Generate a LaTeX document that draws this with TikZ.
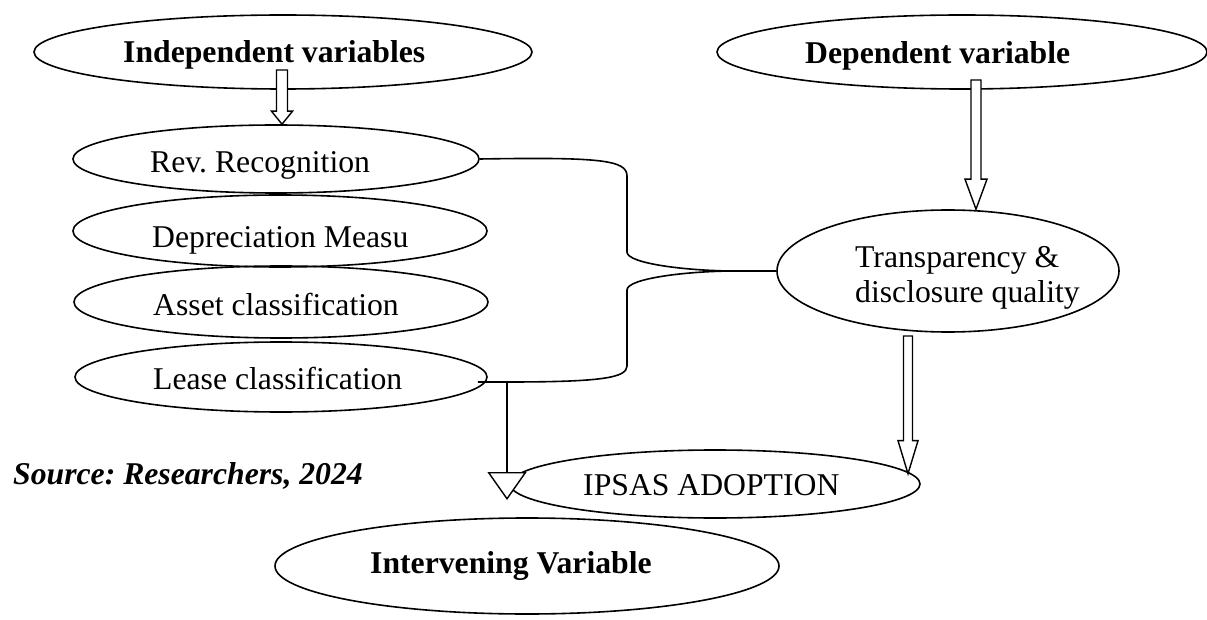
\documentclass[tikz,border=0pt]{standalone}
\usepackage{fontspec}
\setmainfont{Liberation Serif}
\usetikzlibrary{shapes.geometric,calc,arrows.meta}
\newcommand{\bigtxt}{\fontsize{31.7}{35}\selectfont}
\newcommand{\hollowdown}[5]{%
  \draw[line width=1.4pt,fill=white,line join=miter] let \p1=(#1), \p2=(#2) in
    (\x1-#4,\y1) -- (\x1-#4,\y2+#3) -- (\x1-#5,\y2+#3) -- (\x1,\y2)
    -- (\x1+#5,\y2+#3) -- (\x1+#4,\y2+#3) -- (\x1+#4,\y1) -- cycle;}
\frenchspacing

\begin{document}
\begin{tikzpicture}[x=1pt,y=-1pt,
   oval/.style={draw,ellipse,line width=1.6pt,inner sep=0pt},
   lbl/.style={anchor=base west,inner sep=0pt,font=\bigtxt},
   wire/.style={line width=1.6pt}]
   \useasboundingbox (0,0) rectangle (1207,620);
   \node[oval,minimum width=498,minimum height=74] (indep) at (283,52) {};
   \node[oval,minimum width=490,minimum height=74] (dep) at (962,52) {};
   \node[oval,minimum width=406,minimum height=68] (rev) at (276,159) {};
   \node[oval,minimum width=414,minimum height=72] (depr) at (280,231) {};
   \node[oval,minimum width=414,minimum height=72] (asset) at (281,302) {};
   \node[oval,minimum width=412,minimum height=70] (lease) at (281,377) {};
   \node[oval,minimum width=342,minimum height=122] (trans) at (948,271) {};
   \node[oval,minimum width=410,minimum height=68] (ipsas) at (715,484) {};
   \node[oval,minimum width=504,minimum height=96] (interv) at (527,566) {};
   \node[lbl,font=\bigtxt\bfseries] (indeptxt) at (123,63) {Independent variables};
   \node[lbl,font=\bigtxt\bfseries] (deptxt) at (805,64) {Dependent variable};
   \node[lbl] (revtxt) at (150,173) {Rev. Recognition};
   \node[lbl] (deprtxt) at (152,248) {Depreciation Measu};
   \node[lbl] (assettxt) at (153,315) {Asset classification};
   \node[lbl] (leasetxt) at (153,389) {Lease classification};
   \node[lbl] (transtxt) at (855,268) {Transparency \&};
   \node[lbl] (transtxtb) at (855,302) {disclosure quality};
   \node[lbl] (ipsastxt) at (583,495) {IPSAS ADOPTION};
   \node[lbl,font=\bigtxt\bfseries] (intervtxt) at (370,573) {Intervening Variable};
   \node[lbl,font=\bigtxt\bfseries\itshape] (source) at (13,484) {Source: Researchers, 2024};
   \coordinate (ia) at (282,70);
   \coordinate (da) at (976,80);
   \coordinate (ta) at (908,336);
   \coordinate (mid) at (735,271);
   \coordinate (drop) at (507,382);
   \coordinate (droptip) at (507,500);
   \coordinate (leaseend) at ($(lease.east)+(-10,5)$);
   \hollowdown{ia}{ia |- rev.north}{13pt}{5.5pt}{10.5pt}
   \hollowdown{da}{da |- trans.north}{30pt}{5pt}{11pt}
   \hollowdown{ta}{ta |- ipsas.3}{33pt}{4.5pt}{10pt}
   \draw[wire] (rev.east) .. controls (600,157) and (627,160) .. (627,176)
      -- (627,252) .. controls (627,264) and (690,271) .. (mid) -- (trans.west);
   \draw[wire] (mid) .. controls (690,271) and (627,278) .. (627,290)
      -- (627,366) .. controls (627,378) and (600,382) .. (drop) -- (leaseend);
   \draw[line width=2.4pt,-{Triangle[width=39pt,length=28pt,fill=white,line width=1.4pt]}]
      (drop) -- (droptip);
\end{tikzpicture}
\end{document}
